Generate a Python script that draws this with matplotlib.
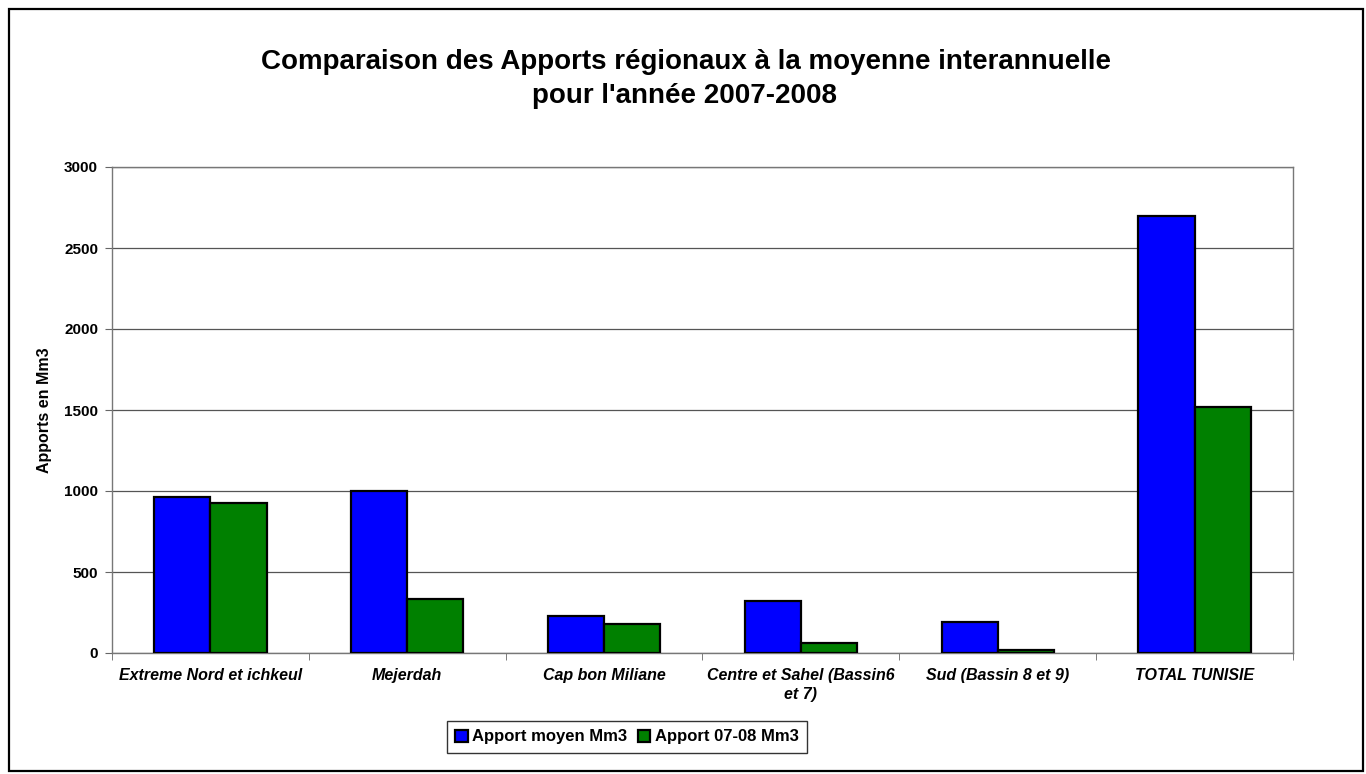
import numpy as np
import matplotlib.pyplot as plt
from matplotlib.patches import Rectangle

plt.rcParams['font.family'] = ['Liberation Sans', 'DejaVu Sans']

# data
regions = ['Extreme Nord et ichkeul', 'Mejerdah', 'Cap bon Miliane',
           'Centre et Sahel (Bassin6\net 7)', 'Sud (Bassin 8 et 9)', 'TOTAL TUNISIE']
apport_moyen = [960, 1002, 229, 322, 192, 2698]
apport_0708 = [929, 331, 182, 62, 16, 1520]
series_names = ['Apport moyen Mm3', 'Apport 07-08 Mm3']
yticks = [0, 500, 1000, 1500, 2000, 2500, 3000]

W, H = 1366, 774
fig = plt.figure(figsize=(W / 100, H / 100), dpi=100)
fig.patch.set_facecolor('white')

# border around the whole chart (pixel box: left 9, top 9, right 1363, bottom 771)
fig.patches.append(Rectangle((9 / W, 3 / H), (1363 - 9) / W, (771 - 9) / H,
                             transform=fig.transFigure, fill=False, edgecolor='black',
                             linewidth=1.6))

left, right, top, bottom = 112, 1293, 167, 653
ax = fig.add_axes([left / W, (H - bottom) / H, (right - left) / W, (bottom - top) / H])

x = np.arange(len(regions))
w = 1 / 3.5
b1 = ax.bar(x - w / 2, apport_moyen, w, color='#0000ff', edgecolor='black', linewidth=1.6,
            label=series_names[0], zorder=3)
b2 = ax.bar(x + w / 2, apport_0708, w, color='#008000', edgecolor='black', linewidth=1.6,
            label=series_names[1], zorder=3)

ax.set_xlim(-0.5, len(regions) - 0.5)
ax.set_ylim(0, 3000)
ax.set_yticks(yticks)
ax.set_yticklabels([str(v) for v in yticks], fontsize=11, fontweight='bold')
ax.yaxis.grid(True, color='#555555', linewidth=0.9, zorder=0)
ax.tick_params(axis='y', direction='out', length=5, color='#666666', pad=5)

ax.set_xticks(x)
ax.set_xticklabels(regions, fontsize=11.5, fontweight='bold', fontstyle='italic',
                   linespacing=1.35)
ax.tick_params(axis='x', length=0, pad=11)
ax.set_xticks(np.arange(len(regions) + 1) - 0.5, minor=True)
ax.tick_params(axis='x', which='minor', direction='out', length=5, color='#666666')

for s in ax.spines.values():
    s.set_color('#777777')
    s.set_linewidth(1)

fig.text(45 / W, 1 - 410 / H, 'Apports en Mm3', rotation=90, ha='center', va='center',
         fontsize=11.5, fontweight='bold')

fig.text(686 / W, 1 - 69 / H, 'Comparaison des Apports régionaux à la moyenne interannuelle',
         ha='center', va='baseline', fontsize=20, fontweight='bold')
fig.text(684 / W, 1 - 103 / H, "pour l'année 2007-2008",
         ha='center', va='baseline', fontsize=20, fontweight='bold')

leg = fig.legend(handles=[b1, b2], loc='center', bbox_to_anchor=(627 / W, 1 - 737 / H), ncol=2,
                 frameon=True, fancybox=False, edgecolor='black',
                 prop={'weight': 'bold', 'size': 12}, handlelength=0.75, handleheight=0.75,
                 handletextpad=0.3, columnspacing=0.6, borderpad=0.5, borderaxespad=0)
leg.get_frame().set_linewidth(1)

fig.savefig('out.png', dpi=100)
